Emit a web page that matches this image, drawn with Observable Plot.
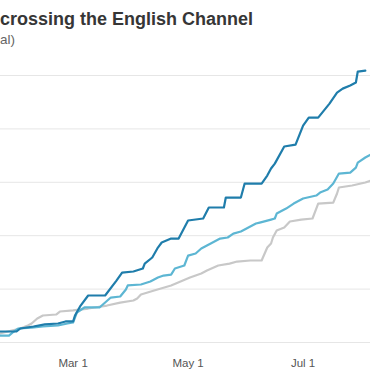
<!DOCTYPE html>
<html>
<head>
<meta charset="utf-8">
<script src="https://cdn.jsdelivr.net/npm/d3@7"></script>
<script src="https://cdn.jsdelivr.net/npm/@observablehq/plot@0.6"></script>
<style>
html, body { margin: 0; padding: 0; background: #fff; }
#wrap { position: relative; width: 370px; height: 370px; overflow: hidden; font-family: "Liberation Sans", Arial, Helvetica, sans-serif; }
#title { position: absolute; left: 0; top: 10px; font-size: 18px; line-height: 18px; font-weight: bold; color: #363636; white-space: nowrap; }
#subtitle { position: absolute; left: 0; top: 33px; font-size: 13.5px; line-height: 13.5px; color: #666; white-space: nowrap; }
#chart { position: absolute; left: 0; top: 55px; }
</style>
</head>
<body>
<div id="wrap">
  <div id="title">crossing the English Channel</div>
  <div id="subtitle">al)</div>
  <div id="chart"></div>
</div>
<script>
// Cumulative totals
const darkDates = ["2022-01-21","2022-01-30","2022-02-01","2022-02-08","2022-02-14","2022-02-21","2022-02-25","2022-03-01","2022-03-02","2022-03-05","2022-03-09","2022-03-18","2022-03-24","2022-03-27","2022-04-02","2022-04-07","2022-04-08","2022-04-12","2022-04-15","2022-04-17","2022-04-22","2022-04-26","2022-05-01","2022-05-09","2022-05-12","2022-05-20","2022-05-21","2022-05-29","2022-05-31","2022-06-09","2022-06-12","2022-06-14","2022-06-16","2022-06-21","2022-06-27","2022-07-01","2022-07-04","2022-07-09","2022-07-15","2022-07-19","2022-07-22","2022-07-26","2022-07-29","2022-07-30","2022-08-03"];
const darkValues = [1030,1030,1310,1500,1690,1780,1970,1970,2530,3460,4400,4400,5800,6550,6650,6930,7390,7960,8890,9360,9730,9730,11420,11610,12640,12640,13570,13570,14880,14880,15630,16290,16750,18350,18530,20310,21060,21060,22370,23400,23770,24060,24340,25370,25460];

const lightDates = ["2022-01-21","2022-01-26","2022-01-28","2022-01-31","2022-02-07","2022-02-13","2022-02-21","2022-02-26","2022-03-01","2022-03-03","2022-03-07","2022-03-15","2022-03-21","2022-03-26","2022-03-29","2022-03-30","2022-04-06","2022-04-11","2022-04-15","2022-04-18","2022-04-22","2022-04-24","2022-04-29","2022-05-01","2022-05-05","2022-05-08","2022-05-11","2022-05-13","2022-05-18","2022-05-22","2022-05-25","2022-05-29","2022-06-01","2022-06-06","2022-06-08","2022-06-14","2022-06-16","2022-06-17","2022-06-22","2022-06-26","2022-07-01","2022-07-08","2022-07-10","2022-07-14","2022-07-17","2022-07-20","2022-07-26","2022-07-29","2022-07-30","2022-08-03","2022-08-06"];
const lightValues = [650,650,940,1310,1400,1500,1590,1780,1870,2810,3280,3280,4210,4310,4960,5340,5430,5710,6080,6270,6360,6930,7210,8140,8330,8800,9080,9270,9730,9830,10200,10390,10670,11140,11230,11510,11610,12070,12540,13010,13480,13760,14040,14320,14880,15820,15910,16380,16850,17320,17600];

const grayDates = ["2022-01-21","2022-02-01","2022-02-05","2022-02-07","2022-02-10","2022-02-13","2022-02-20","2022-02-22","2022-03-01","2022-03-09","2022-03-19","2022-03-26","2022-04-02","2022-04-04","2022-04-06","2022-04-13","2022-04-22","2022-04-27","2022-05-02","2022-05-08","2022-05-11","2022-05-17","2022-05-23","2022-05-27","2022-06-03","2022-06-09","2022-06-12","2022-06-14","2022-06-15","2022-06-17","2022-06-21","2022-06-24","2022-06-30","2022-07-06","2022-07-08","2022-07-09","2022-07-17","2022-07-19","2022-07-20","2022-07-27","2022-08-03","2022-08-06"];
const grayValues = [840,1310,1590,1780,2250,2530,2620,2900,3000,3180,3460,3740,3930,4120,4490,4870,5340,5710,6080,6460,6740,7210,7390,7580,7680,7680,8890,9270,9830,10480,10760,11330,11510,11610,12540,13010,13100,13950,14510,14700,14980,15160];

const xTickDates = ["2022-03-01","2022-05-01","2022-07-01"];
const yTicks = [0, 5000, 10000, 15000, 20000, 25000];
const seriesNames = ["gray", "light", "dark"];
const seriesColors = ["#c8c8c8", "#5db6d3", "#1f7dab"];

const parse = d3.utcParse("%Y-%m-%d");
const rows = (dates, values, series) => dates.map((d, i) => ({date: parse(d), value: values[i], series}));
const data = [
  ...rows(grayDates, grayValues, "gray"),
  ...rows(lightDates, lightValues, "light"),
  ...rows(darkDates, darkValues, "dark")
];

const chart = Plot.plot({
  width: 370,
  height: 315,
  marginLeft: 0,
  marginRight: 0,
  marginTop: 20,
  marginBottom: 28,
  style: {fontFamily: '"Liberation Sans", Arial, Helvetica, sans-serif', fontSize: "11.5px", color: "#555", background: "transparent", overflow: "visible"},
  x: {type: "utc", domain: [new Date(Date.UTC(2022, 0, 21, 12)), new Date(Date.UTC(2022, 7, 5, 18))]},
  y: {domain: [0, 25000], axis: null},
  color: {domain: seriesNames, range: seriesColors},
  marks: [
    Plot.gridY(yTicks, {stroke: "#e6e6e6", strokeOpacity: 1}),
    Plot.axisX(xTickDates.map(parse), {tickSize: 0, tickPadding: 16, tickFormat: d3.utcFormat("%b %-d")}),
    Plot.line(data, {x: "date", y: "value", z: "series", stroke: "series", strokeWidth: 2.2})
  ]
});
document.getElementById("chart").appendChild(chart);
</script>
</body>
</html>
